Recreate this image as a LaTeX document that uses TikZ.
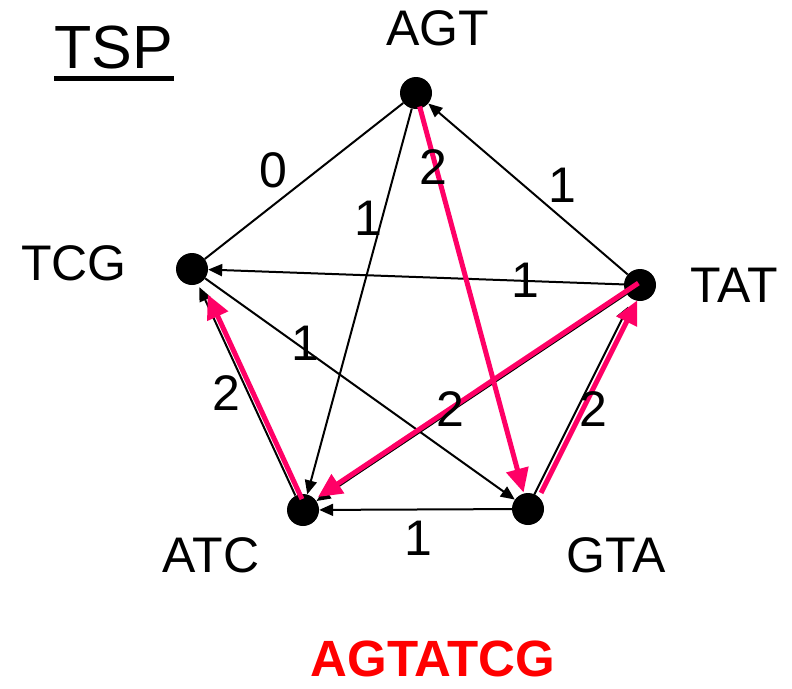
\documentclass[tikz,border=0pt]{standalone}
\usepackage{fontspec}
\setmainfont{Liberation Sans}
\usetikzlibrary{arrows.meta,calc}
\definecolor{hotpink}{RGB}{255,0,102}
\definecolor{pathred}{RGB}{255,0,0}
\begin{document}
\begin{tikzpicture}[x=1pt,y=-1pt,
  vert/.style={circle,fill=black,inner sep=0pt,minimum size=32pt},
  lbl/.style={inner sep=0pt,anchor=base,font=\fontsize{50}{60}\selectfont},
  wt/.style={inner sep=0pt,font=\fontsize{50}{60}\selectfont},
  plain/.style={line width=2pt},
  blk/.style={line width=2pt,-{Triangle[length=14pt,width=12pt]}},
  pnk/.style={draw=hotpink,line width=5pt,-{Triangle[length=24pt,width=22pt]}}
]
\useasboundingbox (0,0) rectangle (792,688);

% vertices
\node[vert] (agt) at (416,93) {};
\node[vert] (tcg) at (192,269) {};
\node[vert] (atc) at (303,510) {};
\node[vert] (gta) at (528,509) {};
\node[vert] (tat) at (640,285) {};

% black edges
\draw[plain] (agt) -- (tcg);
\draw[blk] (agt) -- (atc);
\draw[blk] (tat) -- (agt);
\draw[blk] (tat) -- (tcg);
\draw[blk] (tcg) -- (gta);
\draw[blk] (gta) -- (atc);
\draw[blk] (tat) -- (atc);
\draw[blk] ($(gta)!16pt!(tat)+(-1,0)$) -- ($(tat)!24pt!(gta)+(-1,0)$);
\draw[blk] ($(atc)!16pt!(tcg)+(-1,0)$) -- ($(tcg)!20pt!(atc)+(-1,0)$);

% pink path
\draw[pnk] ($(agt)!14pt!(gta)$) -- ($(gta)!17pt!(agt)$);
\draw[pnk] ($(gta)!18pt!(tat)+(5,0)$) -- ($(tat)!17pt!(gta)+(5,0)$);
\draw[pnk] ($(tat)!2pt!(atc)+(0,-3)$) -- ($(atc)!18pt!(tat)+(0,-3)$);
\draw[pnk] ($(atc)!12pt!(tcg)+(4,0)$) -- ($(tcg)!28pt!(atc)+(4,0)$);

% weights
\node[wt] (w1) at (273,170) {0};
\node[wt] (w2) at (368,218) {1};
\node[wt] (w3) at (433,167) {2};
\node[wt] (w4) at (562,185) {1};
\node[wt] (w5) at (525,280) {1};
\node[wt] (w6) at (305,343) {1};
\node[wt] (w7) at (450,409) {2};
\node[wt] (w8) at (593,409) {2};
\node[wt] (w9) at (226,393) {2};
\node[wt] (w10) at (418,538) {1};

% vertex labels
\node[lbl] (agtl) at (438,45) {AGT};
\node[lbl] (tcgl) at (74,280) {TCG};
\node[lbl] (tatl) at (734,302) {TAT};
\node[lbl] (atcl) at (211,572) {ATC};
\node[lbl] (gtal) at (616,572) {GTA};

% title and result
\node[lbl,font=\fontsize{61}{70}\selectfont] (tsp) at (114,68) {TSP};
\draw[line width=5pt] ($(tsp.base west)+(0,10)$) -- ($(tsp.base east)+(0,10)$);
\node[lbl,font=\bfseries\fontsize{51}{60}\selectfont,text=pathred] (result) at (433,676) {AGTATCG};
\end{tikzpicture}
\end{document}
